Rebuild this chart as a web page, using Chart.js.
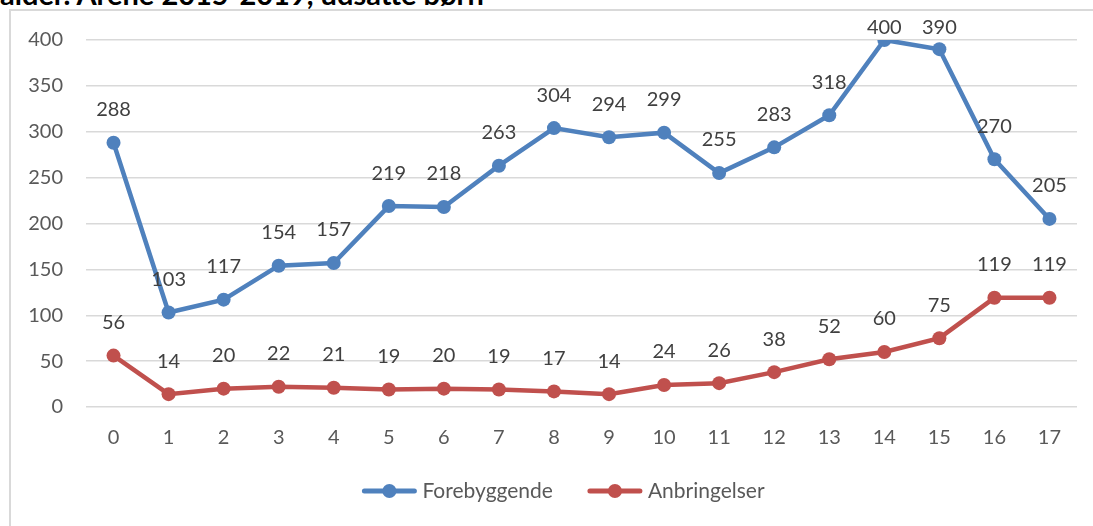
<!DOCTYPE html>
<html>
<head>
<meta charset="utf-8">
<script src="https://cdn.jsdelivr.net/npm/chart.js@4"></script>
<style>
  html, body { margin: 0; padding: 0; background: #fff; overflow: hidden; }
  #wrap { position: relative; width: 1093px; height: 526px; }
  #title { position: absolute; left: 0; top: -21px; font: bold 29px Lato, sans-serif; line-height: 29px; color: #000; white-space: nowrap; }
  #frame { position: absolute; left: 9px; top: 9px; width: 1200px; height: 600px; border: 2px solid #d9d9d9; box-sizing: border-box; }
  #chart { position: absolute; left: 0; top: 0; }
</style>
</head>
<body>
<div id="wrap">
  <div id="title">alder. Årene 2015-2019, udsatte børn</div>
  <div id="frame"></div>
  <canvas id="chart" width="1093" height="526"></canvas>
</div>
<script>
const ages = ["0", "1", "2", "3", "4", "5", "6", "7", "8", "9", "10", "11", "12", "13", "14", "15", "16", "17"];
const forebyggende = [288, 103, 117, 154, 157, 219, 218, 263, 304, 294, 299, 255, 283, 318, 400, 390, 270, 205];
const anbringelser = [56, 14, 20, 22, 21, 19, 20, 19, 17, 14, 24, 26, 38, 52, 60, 75, 119, 119];
const yTicks = [0, 50, 100, 150, 200, 250, 300, 350, 400];

const blue = "#4f81bd";
const red = "#c0504d";
const font = "Lato, sans-serif";

// value labels above each point
const valueLabels = {
  id: "valueLabels",
  afterDatasetsDraw(chart) {
    const ctx = chart.ctx;
    ctx.save();
    ctx.font = "20px " + font;
    ctx.fillStyle = "#404040";
    ctx.textAlign = "center";
    ctx.textBaseline = "middle";
    chart.data.datasets.forEach((ds, i) => {
      chart.getDatasetMeta(i).data.forEach((pt, j) => {
        const y = Math.max(pt.y - 33, 28);
        ctx.fillText(ds.data[j], pt.x, y);
      });
    });
    ctx.restore();
  }
};

// legend under the axis: line with a dot, then the name
const lineLegend = {
  id: "lineLegend",
  afterDraw(chart) {
    const ctx = chart.ctx;
    const y = 491, sample = 56, gapText = 5, gapItem = 34;
    ctx.save();
    ctx.font = "21px " + font;
    ctx.textBaseline = "middle";
    const items = chart.data.datasets.map(ds => ({ ds, w: ctx.measureText(ds.label).width }));
    let total = items.reduce((s, it) => s + sample + gapText + it.w, 0) + gapItem * (items.length - 1);
    let x = 563 - total / 2;
    items.forEach(({ ds, w }) => {
      ctx.strokeStyle = ds.borderColor;
      ctx.lineWidth = 5;
      ctx.lineCap = "round";
      ctx.beginPath();
      ctx.moveTo(x + 3, y);
      ctx.lineTo(x + sample - 3, y);
      ctx.stroke();
      ctx.fillStyle = ds.borderColor;
      ctx.beginPath();
      ctx.arc(x + sample / 2, y, 7, 0, Math.PI * 2);
      ctx.fill();
      ctx.fillStyle = "#595959";
      ctx.fillText(ds.label, x + sample + gapText, y);
      x += sample + gapText + w + gapItem;
    });
    ctx.restore();
  }
};

const ctx = document.getElementById("chart").getContext("2d");
new Chart(ctx, {
  type: "line",
  data: {
    labels: ages,
    datasets: [
      {
        label: "Forebyggende",
        data: forebyggende,
        borderColor: blue,
        backgroundColor: blue,
        borderWidth: 4.5,
        pointRadius: 7,
        pointHoverRadius: 7,
        pointBorderWidth: 0,
        tension: 0
      },
      {
        label: "Anbringelser",
        data: anbringelser,
        borderColor: red,
        backgroundColor: red,
        borderWidth: 4.5,
        pointRadius: 7,
        pointHoverRadius: 7,
        pointBorderWidth: 0,
        tension: 0
      }
    ]
  },
  options: {
    responsive: false,
    animation: false,
    layout: { padding: { left: 10, right: 16, top: 40, bottom: 57 } },
    scales: {
      x: {
        offset: true,
        grid: { display: false, drawTicks: false },
        border: { display: false },
        ticks: { color: "#595959", font: { family: font, size: 20 }, padding: 19, maxRotation: 0 }
      },
      y: {
        min: 0,
        max: 400,
        afterBuildTicks(scale) { scale.ticks = yTicks.map(v => ({ value: v })); },
        afterFit(scale) { scale.width = 76; },
        grid: { color: "#d9d9d9", lineWidth: 1.5, drawTicks: false },
        border: { display: false },
        ticks: { color: "#595959", font: { family: font, size: 20 }, padding: 23 }
      }
    },
    plugins: {
      tooltip: { enabled: false },
      legend: { display: false }
    }
  },
  plugins: [valueLabels, lineLegend]
});
</script>
</body>
</html>
